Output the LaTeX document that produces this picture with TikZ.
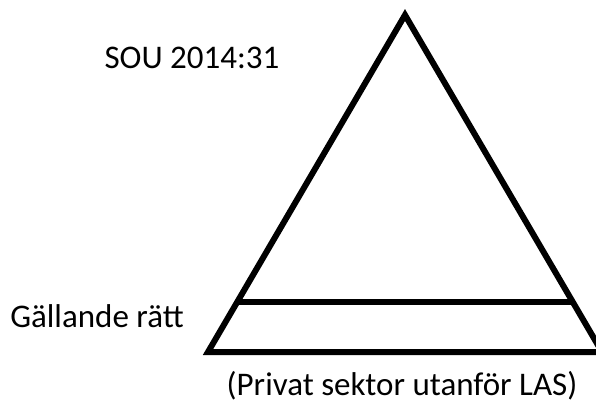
\documentclass[tikz,border=0pt]{standalone}
\usepackage{fontspec}
\setmainfont{Carlito}
\usetikzlibrary{positioning,calc}

\begin{document}
\begin{tikzpicture}[x=1pt, y=-1pt, line width=6pt, line join=miter]
  \useasboundingbox (0,0) rectangle (596,401);
  \begin{scope}[every node/.style={font=\fontsize{33}{38}\selectfont, inner sep=0pt}]
\coordinate(top) at (405,15);
\coordinate(bl) at (208,352);
\coordinate(br) at (602,352);

\draw (top)--(bl)--(br)--cycle;

\coordinate(ml) at ($(top)!0.852!(bl)$);
\coordinate(mr) at ($(top)!0.852!(br)$);
\draw (ml)--(mr);

\node (sou) at (192,58) {SOU 2014:31};
\node (gall) at (97,316) {Gällande rätt};
\node (priv) at (402,386) {(Privat sektor utanför LAS)};
  \end{scope}
\end{tikzpicture}
\end{document}
